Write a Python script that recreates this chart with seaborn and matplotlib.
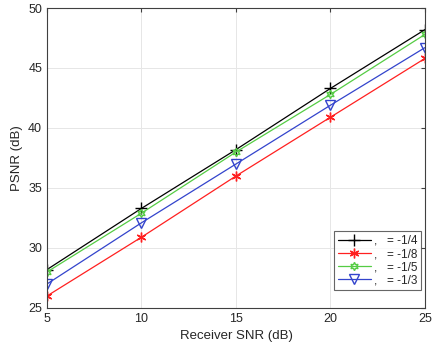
import numpy as np
import pandas as pd
import matplotlib
matplotlib.use('Agg')
import matplotlib.pyplot as plt
import seaborn as sns

# data
snr = [5, 10, 15, 20, 25]
psnr_a = [28.2, 33.3, 38.2, 43.3, 48.2]   # -1/4
psnr_b = [26.0, 30.9, 36.0, 40.9, 45.8]   # -1/8
psnr_c = [28.0, 32.9, 38.0, 42.8, 47.8]   # -1/5
psnr_d = [27.0, 32.1, 37.0, 41.9, 46.7]   # -1/3
labels = [',   = -1/4', ',   = -1/8', ',   = -1/5', ',   = -1/3']

sns.set_style('white')
plt.rcParams['font.family'] = ['Liberation Sans', 'DejaVu Sans']

df = pd.DataFrame({'snr': snr * 4,
                   'psnr': psnr_a + psnr_b + psnr_c + psnr_d,
                   'case': sum([[l] * len(snr) for l in labels], [])})

fig, ax = plt.subplots(figsize=(4.35, 3.48), dpi=100)
fig.subplots_adjust(left=0.108, right=0.977, top=0.977, bottom=0.115)

colors = ['black', '#ff2020', '#55cc44', '#3344cc']
markers = ['+', (6, 2, 0), (6, 1, 0), 'v']
sizes = [8, 7, 6, 6.5]
for lab, c, m, s in zip(labels, colors, markers, sizes):
    sub = df[df['case'] == lab]
    sns.lineplot(data=sub, x='snr', y='psnr', ax=ax, color=c, marker=m,
                 markersize=s, markerfacecolor='none', markeredgecolor=c,
                 markeredgewidth=1.0, linewidth=0.9, label=lab)

ax.set_xlim(5, 25)
ax.set_ylim(25, 50)
ax.set_xticks([5, 10, 15, 20, 25])
ax.set_yticks([25, 30, 35, 40, 45, 50])
ax.grid(True, color='#e6e6e6', linewidth=0.7)
ax.tick_params(direction='in', top=True, right=True, labelsize=9, length=3,
               color='#404040')
for sp in ax.spines.values():
    sp.set_color('#404040')
    sp.set_linewidth(0.8)
ax.set_xlabel('Receiver SNR (dB)', fontsize=9.5)
ax.set_ylabel('PSNR (dB)', fontsize=9.5)

leg = ax.legend(loc='lower right', bbox_to_anchor=(0.99, 0.06), fontsize=8.5,
                frameon=True, fancybox=False, edgecolor='#404040',
                handlelength=2.8, handletextpad=0.3, borderpad=0.3,
                labelspacing=0.1, borderaxespad=0.0)
leg.get_frame().set_linewidth(0.8)

fig.savefig('out.png', dpi=100)
